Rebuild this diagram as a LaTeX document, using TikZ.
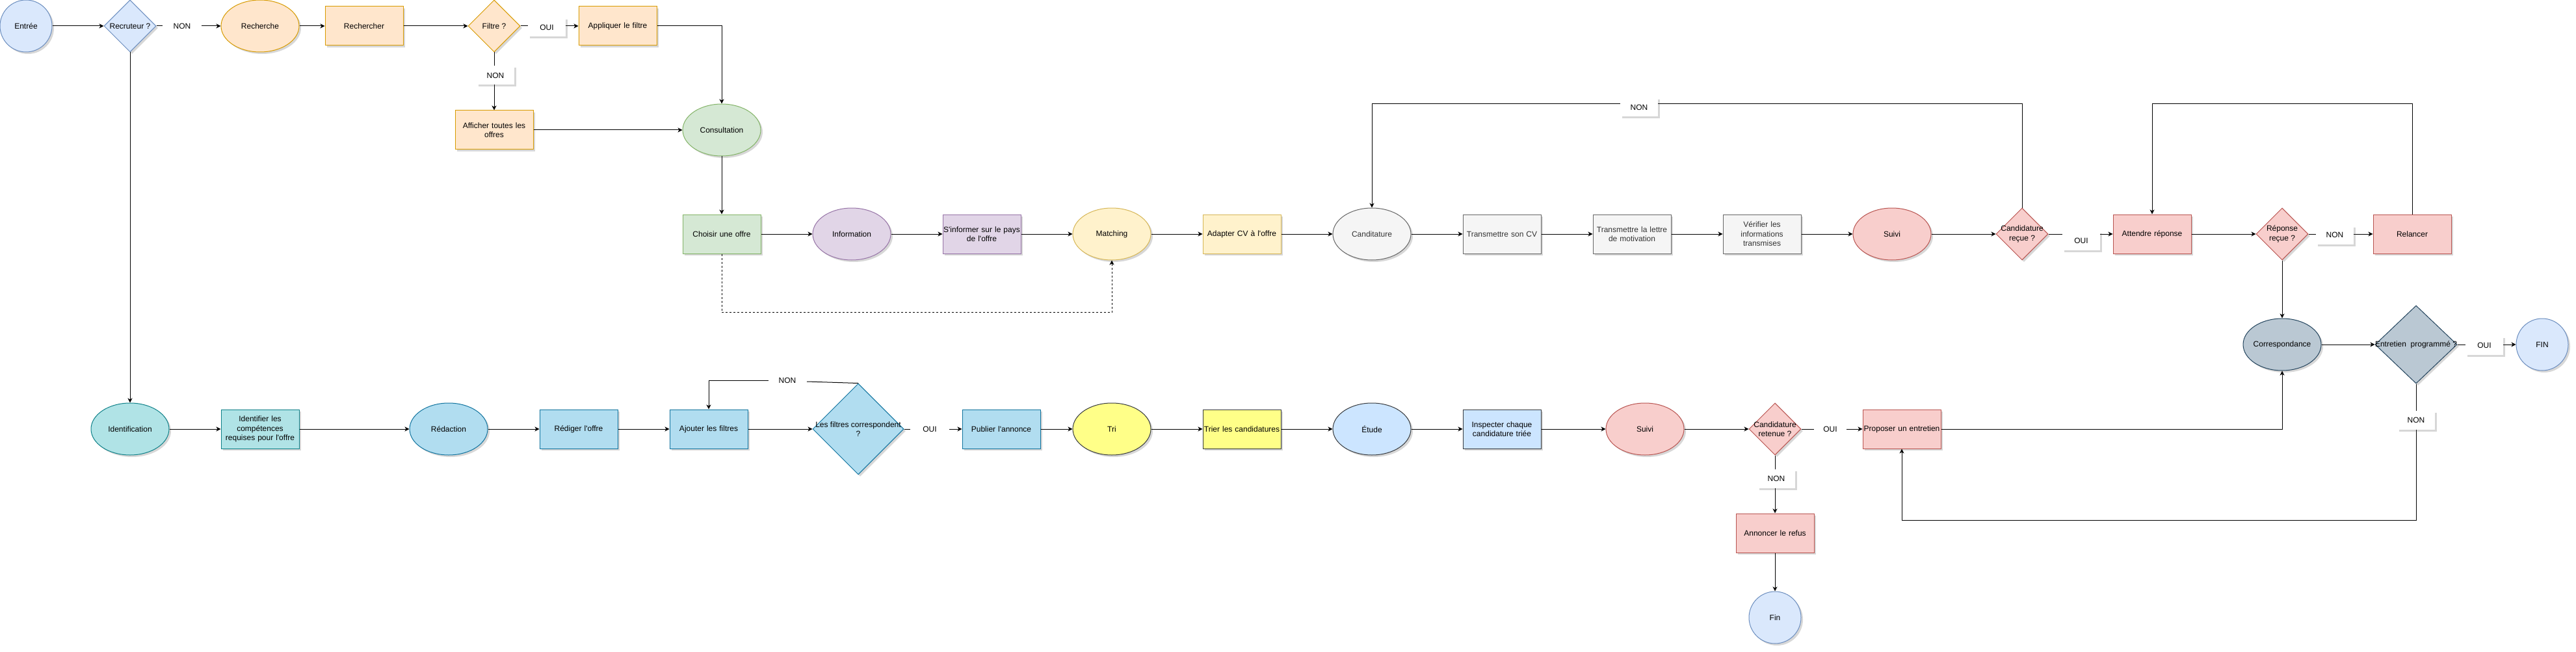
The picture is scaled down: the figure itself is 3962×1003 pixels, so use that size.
\documentclass[tikz,border=0pt]{standalone}
\usepackage{fontspec}
\setmainfont{Liberation Sans}
\usetikzlibrary{shapes.geometric,arrows.meta,shadows}
\definecolor{cBlueF}{HTML}{DAE8FC}\definecolor{cBlueD}{HTML}{6C8EBF}
\definecolor{cOrF}{HTML}{FFE6CC}\definecolor{cOrD}{HTML}{D79B00}
\definecolor{cGrF}{HTML}{D5E8D4}\definecolor{cGrD}{HTML}{82B366}
\definecolor{cPuF}{HTML}{E1D5E7}\definecolor{cPuD}{HTML}{9673A6}
\definecolor{cYeF}{HTML}{FFF2CC}\definecolor{cYeD}{HTML}{D6B656}
\definecolor{cGyF}{HTML}{F5F5F5}\definecolor{cGyD}{HTML}{666666}\definecolor{cGyT}{HTML}{333333}
\definecolor{cRdF}{HTML}{F8CECC}\definecolor{cRdD}{HTML}{B85450}
\definecolor{cSlF}{HTML}{BAC8D3}\definecolor{cSlD}{HTML}{23445D}
\definecolor{cTeF}{HTML}{B0E3E6}\definecolor{cTeD}{HTML}{0E8088}
\definecolor{cLbF}{HTML}{B1DDF0}\definecolor{cLbD}{HTML}{10739E}
\definecolor{cYbF}{HTML}{FFFF88}\definecolor{cYbD}{HTML}{36393D}
\definecolor{cSkF}{HTML}{CCE5FF}\definecolor{cSkD}{HTML}{36393D}
\newcommand\ap{\textquotesingle}
\newcommand\dfs{\fontsize{12}{14.5}\selectfont}
\tikzset{
  shdw/.style={drop shadow={shadow xshift=3pt,shadow yshift=-3pt,opacity=0.22,fill=black!70}},
  shp/.style={draw, line width=1pt, inner sep=0pt, font=\dfs, align=center, shdw},
  sbox/.style={shp, rectangle, minimum width=120pt, minimum height=60pt, text width=118pt},
  sell/.style={shp, ellipse, minimum width=120pt, minimum height=80pt},
  scirc/.style={shp, ellipse, minimum width=80pt, minimum height=80pt},
  sdia/.style={shp, diamond, minimum width=80pt, minimum height=80pt},
  intxt/.style={font=\dfs, align=center, inner sep=0pt},
  t/.style={label={[intxt]center:#1}},
  tg/.style={label={[intxt,text=cGyT]center:#1}},
  cBlue/.style={fill=cBlueF, draw=cBlueD},
  cOr/.style={fill=cOrF, draw=cOrD},
  cGr/.style={fill=cGrF, draw=cGrD},
  cPu/.style={fill=cPuF, draw=cPuD},
  cYe/.style={fill=cYeF, draw=cYeD},
  cGy/.style={fill=cGyF, draw=cGyD, text=cGyT},
  cRd/.style={fill=cRdF, draw=cRdD},
  cSl/.style={fill=cSlF, draw=cSlD},
  cTe/.style={fill=cTeF, draw=cTeD},
  cLb/.style={fill=cLbF, draw=cLbD},
  cYb/.style={fill=cYbF, draw=cYbD},
  cSk/.style={fill=cSkF, draw=cSkD},
  arr/.style={draw, line width=1pt, -{Stealth[length=7pt,width=7pt,inset=2pt]}},
  conn/.style={draw, line width=1pt},
  elab/.style={fill=white, font=\dfs, inner sep=0pt, minimum width=58pt, minimum height=29pt},
  elabs/.style={elab, shdw},
}
\begin{document}
\begin{tikzpicture}[x=1pt,y=-1pt]
\fill[white] (0,0) rectangle (3962,1003);
\useasboundingbox (0,0) rectangle (3962,1003);

% ---- top row
\node[scirc,cBlue,t={Entrée}] (ent) at (40,40) {};
\node[sdia,cBlue,t={Recruteur ?}] (rct) at (200,40) {};
\node[sell,cOr,t={Recherche}] (rch) at (400,40) {};
\node[sbox,cOr] (rchr) at (560,40) {Rechercher};
\node[sdia,cOr,t={Filtre ?}] (fil) at (760,40) {};
\node[sbox,cOr] (app) at (950,40) {Appliquer le filtre};
\node[sbox,cOr] (aff) at (760,200) {Afficher toutes les\\offres};
\node[sell,cGr,t={Consultation}] (cons) at (1110,200) {};

% ---- candidate row
\node[sbox,cGr] (cho) at (1110,360) {Choisir une offre};
\node[sell,cPu,t={Information}] (inf) at (1310,360) {};
\node[sbox,cPu] (sinf) at (1510,360) {S\ap informer sur le pays\\de l\ap offre};
\node[sell,cYe,t={Matching}] (mat) at (1710,360) {};
\node[sbox,cYe] (adp) at (1910,360) {Adapter CV à l\ap offre};
\node[sell,cGy,tg={Canditature}] (cand) at (2110,360) {};
\node[sbox,cGy] (tcv) at (2310,360) {Transmettre son CV};
\node[sbox,cGy] (tlm) at (2510,360) {Transmettre la lettre\\de motivation};
\node[sbox,cGy] (ver) at (2710,360) {Vérifier les\\informations\\transmises};
\node[sell,cRd,t={Suivi}] (sui) at (2910,360) {};
\node[sdia,cRd,t={Candidature\\reçue ?}] (crq) at (3110,360) {};
\node[sbox,cRd] (att) at (3310,360) {Attendre réponse};
\node[sdia,cRd,t={Réponse\\reçue ?}] (rrq) at (3510,360) {};
\node[sbox,cRd] (rel) at (3710,360) {Relancer};

% ---- end row
\node[sell,cSl,t={Correspondance}] (corr) at (3510,530) {};
\node[sdia,cSl,minimum width=126pt,minimum height=120pt,t={Entretien\ \ programmé ?}] (ep) at (3716,530) {};
\node[scirc,cBlue,t={FIN}] (finb) at (3910,530) {};

% ---- recruiter row
\node[sell,cTe,t={Identification}] (idn) at (200,660) {};
\node[sbox,cTe] (idc) at (400,660) {Identifier les\\compétences\\requises pour l\ap offre};
\node[sell,cLb,t={Rédaction}] (red) at (690,660) {};
\node[sbox,cLb] (rdo) at (890,660) {Rédiger l\ap offre};
\node[sbox,cLb] (ajf) at (1090,660) {Ajouter les filtres};
\node[sdia,cLb,minimum width=140pt,minimum height=140pt,t={Les filtres correspondent\\?}] (lfc) at (1320,660) {};
\node[sbox,cLb] (pub) at (1540,660) {Publier l\ap annonce};
\node[sell,cYb,t={Tri}] (tri) at (1710,660) {};
\node[sbox,cYb] (trc) at (1910,660) {Trier les candidatures};
\node[sell,cSk,t={Étude}] (etu) at (2110,660) {};
\node[sbox,cSk] (ins) at (2310,660) {Inspecter chaque\\candidature triée};
\node[sell,cRd,t={Suivi}] (sui2) at (2530,660) {};
\node[sdia,cRd,t={Candidature\\retenue ?}] (crt) at (2730,660) {};
\node[sbox,cRd] (prop) at (2925,660) {Proposer un entretien};
\node[sbox,cRd] (ann) at (2730,820) {Annoncer le refus};
\node[scirc,cBlue,t={Fin}] (fin) at (2730,950) {};

% ---- connectors
\draw[arr] (ent.east) -- (rct.west);
\draw[arr] (rct.east) -- (rch.west);
\draw[arr] (rch.east) -- (rchr.west);
\draw[arr] (rchr.east) -- (fil.west);
\draw[arr] (fil.east) -- (app.west);
\draw[arr] (fil.south) -- (aff.north);
\draw[arr] (app.east) -| (cons.north);
\draw[arr] (aff.east) -- (cons.west);
\draw[arr] (cons.south) -- (cho.north);
\draw[arr] (cho.east) -- (inf.west);
\draw[arr] (inf.east) -- (sinf.west);
\draw[arr] (sinf.east) -- (mat.west);
\draw[arr,dash pattern=on 3pt off 3pt] (cho.south) -- ++(0,90) -| (mat.south);
\draw[arr] (mat.east) -- (adp.west);
\draw[arr] (adp.east) -- (cand.west);
\draw[arr] (cand.east) -- (tcv.west);
\draw[arr] (tcv.east) -- (tlm.west);
\draw[arr] (tlm.east) -- (ver.west);
\draw[arr] (ver.east) -- (sui.west);
\draw[arr] (sui.east) -- (crq.west);
\draw[arr] (crq.east) -- (att.west);
\draw[arr] (crq.north) -- ++(0,-160) -| (cand.north);
\draw[arr] (att.east) -- (rrq.west);
\draw[arr] (rrq.east) -- (rel.west);
\draw[arr] (rel.north) -- ++(0,-170) -| (att.north);
\draw[arr] (rrq.south) -- (corr.north);
\draw[arr] (corr.east) -- (ep.west);
\draw[arr] (ep.east) -- (finb.west);
\draw[arr] (ep.south) -- ++(0,210) -| (prop.south);
\draw[arr] (prop.east) -| (corr.south);
\draw[arr] (rct.south) -- (idn.north);
\draw[arr] (idn.east) -- (idc.west);
\draw[arr] (idc.east) -- (red.west);
\draw[arr] (red.east) -- (rdo.west);
\draw[arr] (rdo.east) -- (ajf.west);
\draw[arr] (ajf.east) -- (lfc.west);
\coordinate (l9e) at (1241,587);
\coordinate (l9w) at (1182,585);
\draw[conn] (lfc.north) -- (l9e);
\draw[arr] (l9w) -| (ajf.north);
\draw[arr] (lfc.east) -- (pub.west);
\draw[arr] (pub.east) -- (tri.west);
\draw[arr] (tri.east) -- (trc.west);
\draw[arr] (trc.east) -- (etu.west);
\draw[arr] (etu.east) -- (ins.west);
\draw[arr] (ins.east) -- (sui2.west);
\draw[arr] (sui2.east) -- (crt.west);
\draw[arr] (crt.east) -- (prop.west);
\draw[arr] (crt.south) -- (ann.north);
\draw[arr] (ann.south) -- (fin.north);

% ---- edge labels
\node[elab,minimum width=60pt] (l1) at (280,40) {NON};
\node[elabs] (l2) at (841,42) {OUI};
\node[elabs] (l3) at (762,116) {NON};
\node[elabs] (l4) at (2521,165) {NON};
\node[elabs] (l5) at (3201,370) {OUI};
\node[elabs] (l6) at (3591,361) {NON};
\node[elabs] (l7) at (3821,531) {OUI};
\node[elabs] (l8) at (3716,646) {NON};
\node[font=\dfs, inner sep=0pt] (l9) at (1211,585) {NON};
\node[elab,minimum width=60pt] (l10) at (1430,660) {OUI};
\node[elab,minimum width=50pt] (l11) at (2815,660) {OUI};
\node[elabs] (l12) at (2732,736) {NON};
\end{tikzpicture}
\end{document}
